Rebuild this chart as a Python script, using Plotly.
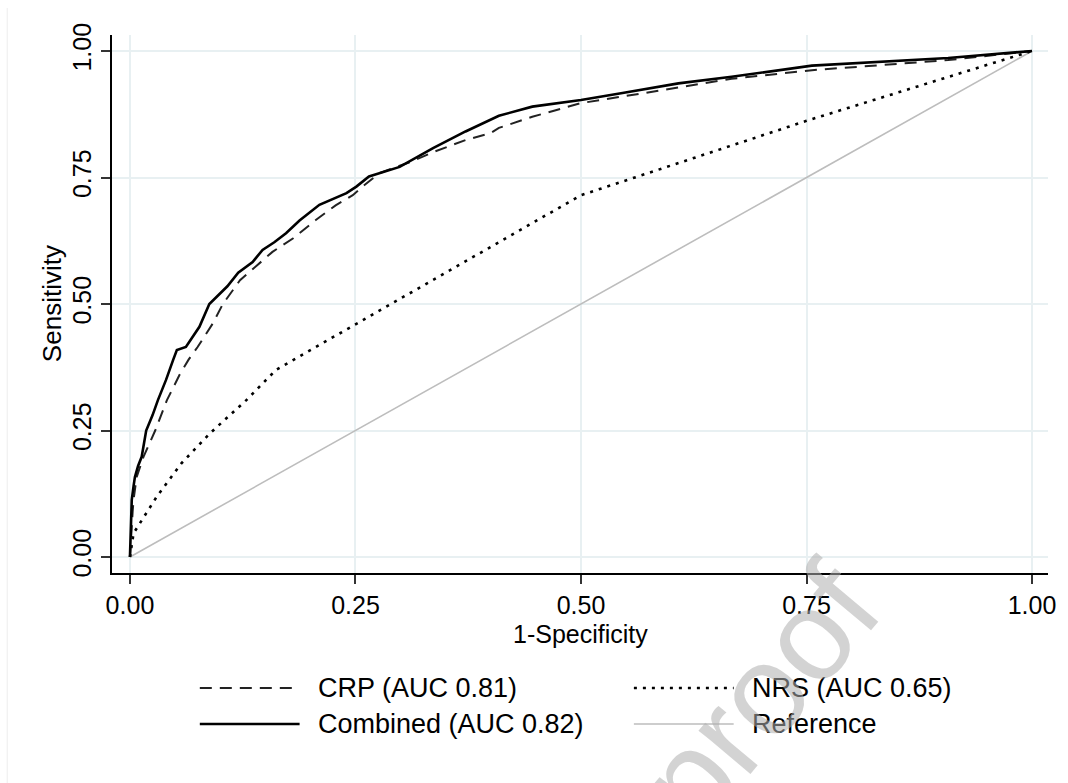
import plotly.graph_objects as go

# ROC curves: false positive rate (1-specificity) vs sensitivity
crp_fpr = [0, 0.001, 0.003, 0.004, 0.0074, 0.015, 0.028, 0.041, 0.055, 0.065, 0.075, 0.092,
           0.103, 0.122, 0.144, 0.158, 0.181, 0.206, 0.228, 0.247, 0.26, 0.277, 0.31, 0.336,
           0.372, 0.40, 0.409, 0.446, 0.472, 0.50, 0.546, 0.667, 0.756, 0.907, 1.0]
crp_tpr = [0, 0.04, 0.09, 0.113, 0.158, 0.198, 0.25, 0.31, 0.36, 0.39, 0.415, 0.462,
           0.50, 0.547, 0.581, 0.603, 0.63, 0.666, 0.695, 0.715, 0.735, 0.759, 0.78, 0.80,
           0.824, 0.838, 0.848, 0.87, 0.883, 0.897, 0.91, 0.945, 0.962, 0.982, 1.0]

comb_fpr = [0, 0.0005, 0.001, 0.002, 0.004, 0.0055, 0.009, 0.013, 0.018, 0.025, 0.031, 0.04,
            0.048, 0.052, 0.062, 0.077, 0.088, 0.096, 0.108, 0.12, 0.136, 0.147, 0.16, 0.173,
            0.188, 0.21, 0.24, 0.251, 0.265, 0.299, 0.336, 0.372, 0.409, 0.446, 0.50, 0.546,
            0.608, 0.667, 0.756, 0.907, 1.0]
comb_tpr = [0, 0.03, 0.08, 0.113, 0.14, 0.158, 0.18, 0.198, 0.25, 0.28, 0.31, 0.35,
            0.39, 0.409, 0.415, 0.455, 0.50, 0.514, 0.535, 0.562, 0.583, 0.607, 0.622, 0.64,
            0.665, 0.696, 0.719, 0.732, 0.752, 0.771, 0.808, 0.841, 0.872, 0.89, 0.903, 0.917,
            0.936, 0.949, 0.971, 0.986, 1.0]

nrs_fpr = [0, 0.004, 0.03, 0.057, 0.089, 0.129, 0.162, 0.50, 0.75, 1.0]
nrs_tpr = [0, 0.047, 0.12, 0.185, 0.245, 0.31, 0.37, 0.715, 0.862, 1.0]

ref_fpr = [0, 1]
ref_tpr = [0, 1]

tick_vals = [0, 0.25, 0.5, 0.75, 1.0]
tick_text = ["0.00", "0.25", "0.50", "0.75", "1.00"]

legend_labels = ["CRP (AUC 0.81)", "NRS (AUC 0.65)", "Combined (AUC 0.82)", "Reference"]

FONT = "Liberation Sans, Arial, Helvetica, sans-serif"
W, H = 1068, 783
L, R, T, B = 112, 18, 35, 210
PW, PH = W - L - R, H - T - B


def px(x):
    return (x - L) / PW


def py(y):
    return (H - B - y) / PH


styles = {
    "crp": dict(color="#222222", width=2, dash="12px,8px"),
    "nrs": dict(color="black", width=2.6, dash="3px,6px"),
    "comb": dict(color="black", width=2.6),
    "ref": dict(color="#bdbdbd", width=1.6),
}

fig = go.Figure()
fig.add_trace(go.Scatter(x=ref_fpr, y=ref_tpr, mode="lines", line=styles["ref"], name=legend_labels[3]))
fig.add_trace(go.Scatter(x=nrs_fpr, y=nrs_tpr, mode="lines", line=styles["nrs"], name=legend_labels[1]))
fig.add_trace(go.Scatter(x=crp_fpr, y=crp_tpr, mode="lines", line=styles["crp"], name=legend_labels[0]))
fig.add_trace(go.Scatter(x=comb_fpr, y=comb_tpr, mode="lines", line=styles["comb"], name=legend_labels[2]))

axis_common = dict(
    tickvals=tick_vals, ticktext=tick_text, ticks="outside", ticklen=9, tickwidth=1.5,
    tickcolor="#333333", showline=True, linecolor="black", linewidth=1.5,
    showgrid=True, gridcolor="#e8f0f2", gridwidth=1.6, zeroline=False,
    tickfont=dict(family=FONT, size=25, color="black"),
)

fig.update_layout(
    width=W, height=H,
    margin=dict(l=L, r=R, t=T, b=B, pad=0),
    paper_bgcolor="white", plot_bgcolor="white",
    showlegend=False,
    xaxis=dict(range=[-0.0199, 1.0177], **axis_common),
    yaxis=dict(range=[-0.0316, 1.0316], tickangle=-90, **axis_common),
    font=dict(family=FONT, color="black"),
)

annotations = [
    dict(text="1-Specificity", x=0.5, xref="x", y=py(634), yref="paper",
         xanchor="center", yanchor="middle", showarrow=False, font=dict(size=25)),
    dict(text="Sensitivity", x=px(52), xref="paper", y=0.5, yref="y", textangle=-90,
         xanchor="center", yanchor="middle", showarrow=False, font=dict(size=26)),
]

# Legend drawn as line samples with labels in two columns
legend_items = [
    ("crp", 200, 688, legend_labels[0]),
    ("nrs", 635, 688, legend_labels[1]),
    ("comb", 200, 724, legend_labels[2]),
    ("ref", 635, 724, legend_labels[3]),
]
shapes = []
for key, x0, yy, label in legend_items:
    st = styles[key]
    shapes.append(dict(type="line", xref="paper", yref="paper",
                       x0=px(x0), x1=px(x0 + 100), y0=py(yy), y1=py(yy),
                       line=dict(color=st["color"], width=st["width"], dash=st.get("dash", "solid"))))
    annotations.append(dict(text=label, x=px(x0 + 116), xref="paper", y=py(yy), yref="paper",
                            xanchor="left", yanchor="middle", showarrow=False,
                            font=dict(size=27, color="black")))

# faint outer frame on the left
shapes.append(dict(type="line", xref="paper", yref="paper", x0=px(7), x1=px(7), y0=py(8), y1=py(783),
                   line=dict(color="#eeeeee", width=1)))

# diagonal watermark
annotations.append(dict(text="Journal Pre-proof", x=px(535), xref="paper", y=py(962), yref="paper",
                        xanchor="center", yanchor="middle", showarrow=False, textangle=-50,
                        font=dict(size=128, color="rgba(175,175,175,0.55)")))

fig.update_layout(annotations=annotations, shapes=shapes)
fig.write_html("out.html")
